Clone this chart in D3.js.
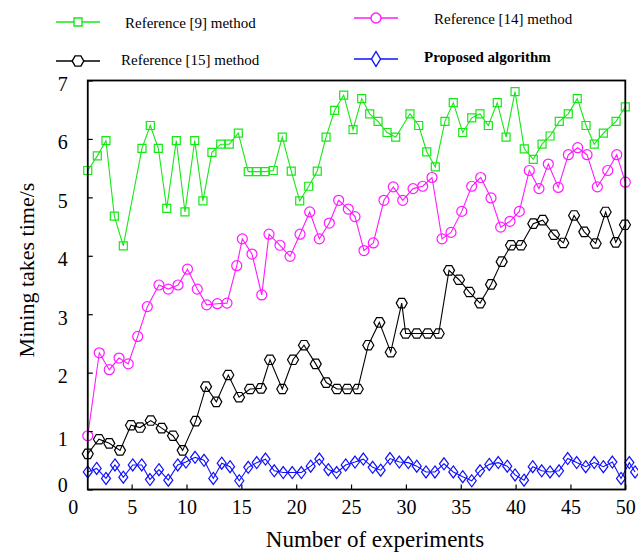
<!DOCTYPE html>
<html>
<head>
<meta charset="utf-8">
<script src="https://cdn.jsdelivr.net/npm/d3@7/dist/d3.min.js"></script>
<style>
body{margin:0;background:#fff;}
svg text{font-family:"Liberation Serif","Times New Roman",serif !important;fill:#000;}
</style>
</head>
<body>
<script>
//values: x = number of experiments, y = mining time (s)
var ref9X = [1.0,1.87,2.66,3.42,4.24,5.94,6.70,7.43,8.20,9.07,9.86,10.75,11.50,12.32,13.12,13.90,14.72,15.63,16.40,17.16,17.91,18.73,19.55,20.32,21.14,21.92,22.72,23.51,24.33,25.18,25.97,26.70,27.46,28.28,29.07,30.37,31.17,31.90,32.68,33.56,34.32,35.18,36.00,36.75,37.51,38.33,39.13,39.95,40.79,41.61,42.41,43.14,43.98,44.80,45.62,46.42,47.17,48.00,49.16,50.0];
var ref9Y = [5.46,5.71,5.97,4.68,4.17,5.84,6.23,5.84,4.81,5.97,4.75,5.97,4.94,5.77,5.91,5.91,6.10,5.44,5.44,5.44,5.46,6.03,5.45,4.94,5.19,5.45,6.03,6.49,6.75,6.16,6.69,6.43,6.30,6.11,6.03,6.43,6.23,5.78,5.52,6.30,6.62,6.11,6.36,6.43,6.23,6.62,6.03,6.81,5.83,5.65,5.91,6.05,6.30,6.43,6.69,6.23,5.91,6.10,6.30,6.55];

var ref14X = [1.0,2.05,2.96,3.85,4.69,5.55,6.43,7.49,8.34,9.23,10.09,10.98,11.84,12.81,13.69,14.58,15.09,15.97,16.86,17.52,18.52,19.44,20.35,21.23,22.11,23.02,23.87,24.75,25.36,26.18,27.03,28.00,28.85,29.71,30.65,31.53,32.38,33.29,34.11,35.09,36.00,36.82,37.76,38.64,39.49,40.34,41.25,42.13,42.98,43.89,44.81,45.66,46.51,47.45,48.40,49.22,50.0];
var ref14Y = [0.92,2.34,2.05,2.25,2.15,2.62,3.13,3.50,3.43,3.50,3.77,3.43,3.16,3.18,3.19,3.83,4.29,4.03,3.33,4.37,4.18,3.99,4.37,4.75,4.29,4.56,4.95,4.80,4.67,4.09,4.22,4.95,5.18,4.95,5.15,5.19,5.34,4.29,4.40,4.76,5.19,5.34,4.99,4.49,4.59,4.76,5.46,5.15,5.57,5.17,5.73,5.85,5.73,5.18,5.46,5.73,5.26];

var ref15X = [1.0,2.02,2.96,3.94,4.94,5.76,6.74,7.74,8.77,9.65,10.84,11.78,12.72,13.81,14.79,15.79,16.79,17.61,18.73,19.71,20.71,21.78,22.74,23.72,24.66,25.61,26.57,27.58,28.62,29.62,29.98,30.99,31.99,32.99,33.93,34.84,35.78,36.76,37.76,38.73,39.58,40.49,41.61,42.47,43.50,44.35,45.33,46.26,47.30,48.21,49.13,49.97];
var ref15Y = [0.61,0.86,0.79,0.67,1.10,1.06,1.18,1.05,0.92,0.67,1.17,1.76,1.50,1.96,1.58,1.72,1.73,2.22,1.72,2.22,2.47,2.15,1.83,1.72,1.72,1.72,2.47,2.86,2.35,3.19,2.67,2.67,2.67,2.67,3.75,3.59,3.38,3.19,3.51,3.90,4.18,4.18,4.55,4.61,4.36,4.22,4.69,4.41,4.21,4.75,4.23,4.53];

var propX = [1.0,1.81,2.66,3.48,4.24,5.10,5.92,6.67,7.49,8.34,9.20,9.95,10.78,11.60,12.44,13.21,13.97,14.81,15.63,16.40,17.20,18.00,18.82,19.64,20.47,21.32,22.11,22.93,23.69,24.51,25.36,26.12,26.97,27.70,28.55,29.40,30.22,30.99,31.83,32.65,33.47,34.32,35.18,36.00,36.76,37.60,38.42,39.24,39.95,40.77,41.56,42.38,43.14,43.96,44.75,45.57,46.39,47.17,48.00,48.82,49.61,50.37,50.89];
var propY = [0.30,0.36,0.19,0.42,0.21,0.42,0.42,0.17,0.34,0.16,0.42,0.47,0.55,0.50,0.19,0.45,0.39,0.15,0.38,0.46,0.52,0.32,0.29,0.29,0.29,0.40,0.52,0.34,0.29,0.42,0.47,0.52,0.38,0.33,0.53,0.47,0.46,0.40,0.30,0.30,0.44,0.30,0.22,0.15,0.32,0.43,0.46,0.40,0.25,0.16,0.39,0.32,0.30,0.32,0.53,0.46,0.39,0.46,0.39,0.47,0.19,0.46,0.30];

var seriesNames = ["Reference [9] method", "Reference [14] method", "Reference [15] method", "Proposed algorithm"];
var xTicks = [0,5,10,15,20,25,30,35,40,45,50];
var yTicks = [0,1,2,3,4,5,6,7];

//begin script when window loads
window.onload = setChart;

//marker shapes, drawn around 0,0
function markerPath(shape, big){
    var s = big ? 1.25 : 1;
    if (shape == "square") return "M-4,-4H4V4H-4Z";
    if (shape == "circle") return "M5,0A5,5 0 1,1 -5,0A5,5 0 1,1 5,0Z";
    if (shape == "hexagon"){
        var rx = 5.5 * (big ? 1.05 : 1), ry = 4.7 * (big ? 1.1 : 1);
        return "M" + rx + ",0L" + rx/2 + "," + (-ry) + "L" + (-rx/2) + "," + (-ry) +
            "L" + (-rx) + ",0L" + (-rx/2) + "," + ry + "L" + rx/2 + "," + ry + "Z";
    }
    //diamond
    return "M0," + (-6*s) + "L4.5,0L0," + (6*s) + "L-4.5,0Z";
}

function setChart(){

    //chart frame dimensions
    var width = 638,
        height = 553;
    var serif = '"Liberation Serif","Times New Roman",serif';

    var svg = d3.select("body")
        .append("svg")
        .attr("width", width)
        .attr("height", height);

    var x = d3.scaleLinear()
        .domain([0, 50])
        .range([76.8, 625.3]);

    var y = d3.scaleLinear()
        .domain([0, 7])
        .range([489.5, 80.5]);

    //series table built from the arrays above
    var series = [
        {name: seriesNames[0], xs: ref9X, ys: ref9Y, color: "#16e816", shape: "square"},
        {name: seriesNames[1], xs: ref14X, ys: ref14Y, color: "#ff1aff", shape: "circle"},
        {name: seriesNames[2], xs: ref15X, ys: ref15Y, color: "#000000", shape: "hexagon"},
        {name: seriesNames[3], xs: propX, ys: propY, color: "#1010ff", shape: "diamond"}
    ];

    var line = d3.line()
        .x(function(d){ return x(d[0]); })
        .y(function(d){ return y(d[1]); });

    //draw lines and markers
    series.forEach(function(s){
        var pts = d3.zip(s.xs, s.ys);
        var g = svg.append("g").attr("class", "series");
        g.append("path")
            .datum(pts)
            .attr("d", line)
            .attr("fill", "none")
            .attr("stroke", s.color)
            .attr("stroke-width", 1.1);
        g.selectAll(".marker")
            .data(pts)
            .enter()
            .append("path")
            .attr("class", "marker")
            .attr("d", markerPath(s.shape))
            .attr("transform", function(d){ return "translate(" + x(d[0]) + "," + y(d[1]) + ")"; })
            .attr("fill", "none")
            .attr("stroke", s.color)
            .attr("stroke-width", 1.2);
    });

    //axes with inward ticks
    var xAxis = d3.axisBottom(x)
        .tickValues(xTicks)
        .tickFormat(d3.format("d"))
        .tickSizeInner(-5)
        .tickSizeOuter(0)
        .tickPadding(10);
    var gx = svg.append("g")
        .attr("transform", "translate(0," + y(0) + ")")
        .attr("font-family", serif)
        .call(xAxis);
    gx.select(".domain").remove();
    gx.selectAll(".tick line").attr("stroke", "#000").attr("stroke-width", 1.2)
        .filter(function(d){ return d == 0; }).remove();
    gx.selectAll(".tick text")
        .style("font-family", serif)
        .style("font-size", "20px")
        .attr("dx", function(d){ return d == 0 ? "-0.2em" : 0; });

    var yAxis = d3.axisLeft(y)
        .tickValues(yTicks)
        .tickFormat(d3.format("d"))
        .tickSizeInner(-5)
        .tickSizeOuter(0)
        .tickPadding(20);
    var gy = svg.append("g")
        .attr("transform", "translate(" + x(1) + ",0)")
        .attr("font-family", serif)
        .call(yAxis);
    gy.select(".domain").remove();
    gy.selectAll(".tick line").attr("stroke", "#000").attr("stroke-width", 1.2);
    //the 0 and 1 labels sit a little off their ticks in the original
    gy.selectAll(".tick text")
        .style("font-family", serif)
        .style("font-size", "20px")
        .attr("dy", function(d){ return d == 0 ? "0.12em" : (d == 1 ? "0.72em" : "0.5em"); });

    //plot border
    svg.append("rect")
        .attr("x", x(1))
        .attr("y", y(7))
        .attr("width", x(50) - x(1))
        .attr("height", y(0) - y(7))
        .attr("fill", "none")
        .attr("stroke", "#000")
        .attr("stroke-width", 1.8);

    //axis titles
    svg.append("text")
        .attr("x", 375)
        .attr("y", 547)
        .attr("text-anchor", "middle")
        .style("font-family", serif)
        .style("font-size", "23px")
        .text("Number of experiments");

    svg.append("text")
        .attr("transform", "translate(34,270) rotate(-90)")
        .attr("text-anchor", "middle")
        .style("font-family", serif)
        .style("font-size", "22px")
        .text("Mining takes time/s");

    //legend, two columns
    var legendPos = [
        {lx: 56, ly: 22, tx: 125, ty: 28, bold: false},
        {lx: 354, ly: 18, tx: 434, ty: 24, bold: false},
        {lx: 56, ly: 61, tx: 121, ty: 65, bold: false},
        {lx: 354, ly: 59, tx: 424, ty: 62, bold: true}
    ];
    series.forEach(function(s, i){
        var p = legendPos[i];
        var g = svg.append("g").attr("class", "legend");
        g.append("line")
            .attr("x1", p.lx).attr("x2", p.lx + 44)
            .attr("y1", p.ly).attr("y2", p.ly)
            .attr("stroke", s.color)
            .attr("stroke-width", 1.6);
        g.append("path")
            .attr("d", markerPath(s.shape, true))
            .attr("transform", "translate(" + (p.lx + 22) + "," + p.ly + ")")
            .attr("fill", "#fff")
            .attr("stroke", s.color)
            .attr("stroke-width", 1.4);
        g.append("text")
            .attr("x", p.tx)
            .attr("y", p.ty)
            .style("font-family", serif)
            .style("font-size", "15px")
            .style("font-weight", p.bold ? "bold" : "normal")
            .text(s.name);
    });
}
</script>
</body>
</html>
